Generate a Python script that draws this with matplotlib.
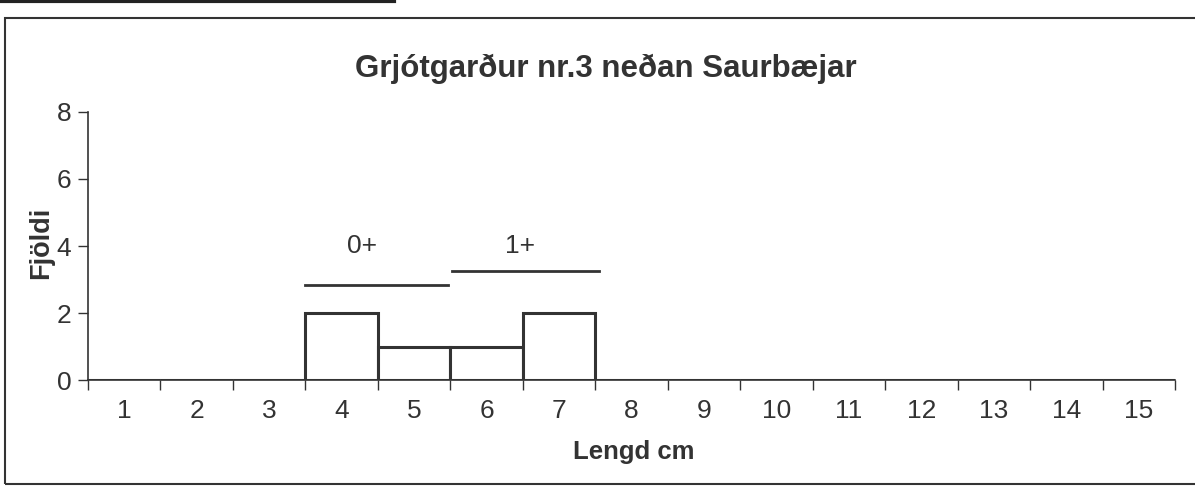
import matplotlib
matplotlib.use("Agg")
import matplotlib.pyplot as plt
from matplotlib.patches import Rectangle
from matplotlib.lines import Line2D

plt.rcParams['font.family'] = ['Liberation Sans', 'DejaVu Sans']

lengths = list(range(1, 16))
counts = [0, 0, 0, 2, 1, 1, 2, 0, 0, 0, 0, 0, 0, 0, 0]
y_ticks = [0, 2, 4, 6, 8]
title = "Grjótgarður nr.3 neðan Saurbæjar"
xlabel = "Lengd cm"
ylabel = "Fjöldi"
groups = ["0+", "1+"]
group_spans = [(3.5, 5.47), (5.53, 7.55)]
group_line_y = [2.84, 3.25]
group_text_x = [4.28, 6.46]
group_text_y = [4.0, 4.0]

fig = plt.figure(figsize=(11.95, 4.88), dpi=100)
ax = fig.add_axes([0.0736, 0.2213, 0.9097, 0.5492])

ax.bar(lengths, counts, width=1.0, facecolor='white', edgecolor='#333333', linewidth=2.2, zorder=3)

ax.set_xlim(0.5, 15.5)
ax.set_ylim(0, 8)
ax.set_yticks(y_ticks)
ax.set_xticks(lengths)
ax.set_xticks([i + 0.5 for i in range(0, 16)], minor=True)
ax.tick_params(axis='x', which='major', length=0, labelsize=19, pad=14, colors='#333333')
ax.tick_params(axis='x', which='minor', length=7, width=1, direction='out', colors='#333333')
ax.tick_params(axis='y', length=7, width=1, direction='out', labelsize=19, pad=5, colors='#333333')
for s in ['top', 'right']:
    ax.spines[s].set_visible(False)
for s in ['left', 'bottom']:
    ax.spines[s].set_color('#333333')
    ax.spines[s].set_linewidth(1.2)

for g, (x0, x1), ly, tx, ty in zip(groups, group_spans, group_line_y, group_text_x, group_text_y):
    ax.plot([x0, x1], [ly, ly], color='#333333', linewidth=2, clip_on=False)
    ax.text(tx, ty, g, ha='center', va='center', fontsize=19, color='#333333')

fig.text(0.507, 0.858, title, ha='center', va='center', fontsize=22.5, fontweight='bold', color='#333333')
fig.text(0.53, 0.073, xlabel, ha='center', va='center', fontsize=18.5, fontweight='bold', color='#333333')
fig.text(0.034, 0.502, ylabel, ha='center', va='center', rotation=90, fontsize=19.5, fontweight='bold', color='#333333')

fig.patches.append(Rectangle((5 / 1195, 4 / 488), 1.2, 466 / 488, transform=fig.transFigure,
                             fill=False, edgecolor='#333333', linewidth=1.5))
fig.lines.append(Line2D([0, 0.33], [0.997, 0.997], transform=fig.transFigure, color='#222222', linewidth=3))

fig.savefig("out.png", dpi=100)
